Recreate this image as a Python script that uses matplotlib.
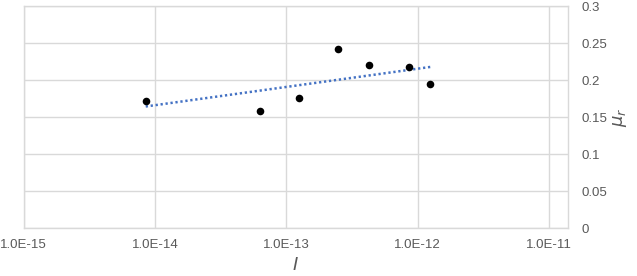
import numpy as np
import matplotlib
matplotlib.use("Agg")
import matplotlib.pyplot as plt
from matplotlib.ticker import FixedLocator

# data
I_vals = [8.5e-15, 6.3e-14, 1.26e-13, 2.5e-13, 4.3e-13, 8.6e-13, 1.25e-12]
mu_r = [0.172, 0.159, 0.176, 0.243, 0.221, 0.218, 0.195]
x_ticks = [1e-15, 1e-14, 1e-13, 1e-12, 1e-11]
x_tick_labels = ["1.0E-15", "1.0E-14", "1.0E-13", "1.0E-12", "1.0E-11"]
y_ticks = [0, 0.05, 0.1, 0.15, 0.2, 0.25, 0.3]
y_tick_labels = ["0", "0.05", "0.1", "0.15", "0.2", "0.25", "0.3"]

plt.rcParams['font.family'] = ['Liberation Sans', 'DejaVu Sans']

fig = plt.figure(figsize=(6.37, 2.76), dpi=100)
ax = fig.add_axes([0.0372, 0.1728, 0.891 - 0.0372, 0.977 - 0.1728])

grid_c = "#d9d9d9"
text_c = "#595959"

ax.set_xscale("log")
ax.set_xlim(1e-15, 1.39e-11)
ax.set_ylim(0, 0.3)

# logarithmic trendline
lx = np.log10(np.array(I_vals))
a, b = np.polyfit(lx, np.array(mu_r), 1)
xs = np.logspace(lx.min(), lx.max(), 50)
ax.plot(xs, a * np.log10(xs) + b, color="#4472C4", lw=1.8,
        linestyle=(0, (0.9, 1.1)), zorder=3)

ax.scatter(I_vals, mu_r, s=30, color="black", zorder=4, linewidths=0)

ax.xaxis.set_major_locator(FixedLocator(x_ticks))
ax.xaxis.set_minor_locator(FixedLocator([]))
ax.set_xticklabels(x_tick_labels)
ax.set_yticks(y_ticks)
ax.set_yticklabels(y_tick_labels)
ax.yaxis.tick_right()
ax.yaxis.set_label_position("right")

ax.tick_params(axis="both", length=0, labelsize=9.5, labelcolor=text_c)
ax.tick_params(axis="x", pad=8)
ax.tick_params(axis="y", pad=10)

ax.grid(True, color=grid_c, lw=1)
ax.set_axisbelow(True)
for s in ax.spines.values():
    s.set_color(grid_c)
    s.set_linewidth(1)

ax.set_xlabel(r"$I$", fontsize=13, color=text_c, labelpad=4)
ax.set_ylabel(r"$\mu_r$", fontsize=13, color=text_c, rotation=90, va="center")
ax.yaxis.set_label_coords(1.096, 0.5)

fig.savefig("out.png", dpi=100)
